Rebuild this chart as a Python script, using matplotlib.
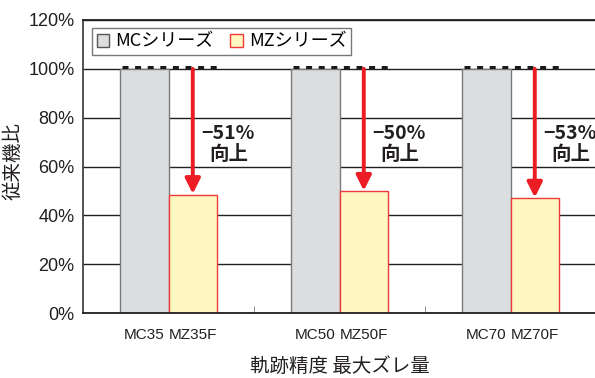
import numpy as np
import matplotlib.pyplot as plt
import matplotlib.transforms as mtransforms
from matplotlib.patches import Patch

plt.rcParams['font.family'] = ['Liberation Sans Narrow', 'Liberation Sans', 'Noto Sans CJK JP', 'DejaVu Sans']
JP = ['Noto Sans CJK JP', 'DejaVu Sans']

groups = ["35", "50", "70"]
mc_labels = ["MC35", "MC50", "MC70"]
mz_labels = ["MZ35F", "MZ50F", "MZ70F"]
mc_vals = [100, 100, 100]
mz_vals = [48.5, 49.8, 47.0]
improve = ["−51%", "−50%", "−53%"]
yticks = [0, 20, 40, 60, 80, 100, 120]

fig = plt.figure(figsize=(5.95, 3.78), dpi=100)
ax = fig.add_axes([83/595, 65/378, 513/595, 293/378])

x = np.arange(len(groups))
w = 0.284
ax.bar(x - w/2, mc_vals, w, color="#dcdddf", edgecolor="#7a7a7a", linewidth=1, zorder=2)
ax.bar(x + w/2, mz_vals, w, color="#fff8c2", edgecolor="#ee3a3a", linewidth=1, zorder=2)

# dotted marker line sitting on the 100% line
up = mtransforms.offset_copy(ax.transData, fig=fig, x=0, y=2, units='dots')
for i in range(len(groups)):
    ax.plot([x[i] - w + 0.01, x[i] + w], [100, 100], color="#1a1a1a", lw=2.16,
            linestyle=(0, (2.0, 2.2)), dash_capstyle='butt', transform=up, zorder=4)
    ax.annotate("", xy=(x[i] + w/2, mz_vals[i] + 0.3), xytext=(x[i] + w/2, 100),
                arrowprops=dict(arrowstyle="-|>,head_length=0.9,head_width=0.45",
                                color="#ec1c24", lw=2.8, shrinkA=0, shrinkB=0),
                zorder=5)
    ax.text(x[i] + 0.35, 73.7, improve[i], ha="center", va="center", fontsize=14,
            fontweight="bold", family=JP, color="#231f20", zorder=6)
    ax.text(x[i] + 0.35, 65.0, "向上", ha="center", va="center", fontsize=14,
            fontweight="bold", family=JP, color="#231f20", zorder=6)

ax.set_ylim(0, 120)
ax.set_xlim(-0.5, 2.5)
ax.set_yticks(yticks)
ax.set_yticklabels(["{:}%".format(v) for v in yticks], fontsize=13, color="#231f20")
ax.yaxis.grid(True, color="#231f20", lw=1, zorder=0)
ax.set_axisbelow(True)

ax.set_xticks(np.concatenate([x - w/2, x + w/2]))
ax.set_xticklabels(mc_labels + mz_labels, fontsize=11, color="#231f20")
ax.set_xticks([0.5, 1.5], minor=True)
ax.tick_params(axis='x', which='major', length=0, pad=11)
ax.tick_params(axis='x', which='minor', direction='in', length=5, color="#777777")
ax.tick_params(axis='y', length=0, pad=6)

ax.spines['right'].set_visible(False)
ax.spines['top'].set_color("#231f20")
ax.spines['top'].set_linewidth(1.3)
ax.spines['left'].set_color("#444444")
ax.spines['left'].set_linewidth(1.3)
ax.spines['bottom'].set_color("#231f20")
ax.spines['bottom'].set_linewidth(1.3)

ax.set_ylabel("従来機比", family=JP, fontsize=14, color="#231f20")
ax.yaxis.set_label_coords(-59/513, 0.52)
ax.set_xlabel("軌跡精度 最大ズレ量", family=JP, fontsize=14, color="#231f20")
ax.xaxis.set_label_coords(0.5, -43/293)

handles = [Patch(facecolor="#dcdddf", edgecolor="#555555", label="MCシリーズ"),
           Patch(facecolor="#fff8c2", edgecolor="#ee3a3a", label="MZシリーズ")]
leg = ax.legend(handles=handles, loc="upper left", bbox_to_anchor=(9/513, 1 - 8/293), ncol=2,
                prop={'family': JP, 'size': 13}, frameon=True, fancybox=False,
                handlelength=0.7, handleheight=0.7, handletextpad=0.35, columnspacing=0.9,
                borderpad=0.25, borderaxespad=0)
leg.get_frame().set_edgecolor("#555555")
leg.get_frame().set_linewidth(1)

fig.savefig("out.png", dpi=100)
